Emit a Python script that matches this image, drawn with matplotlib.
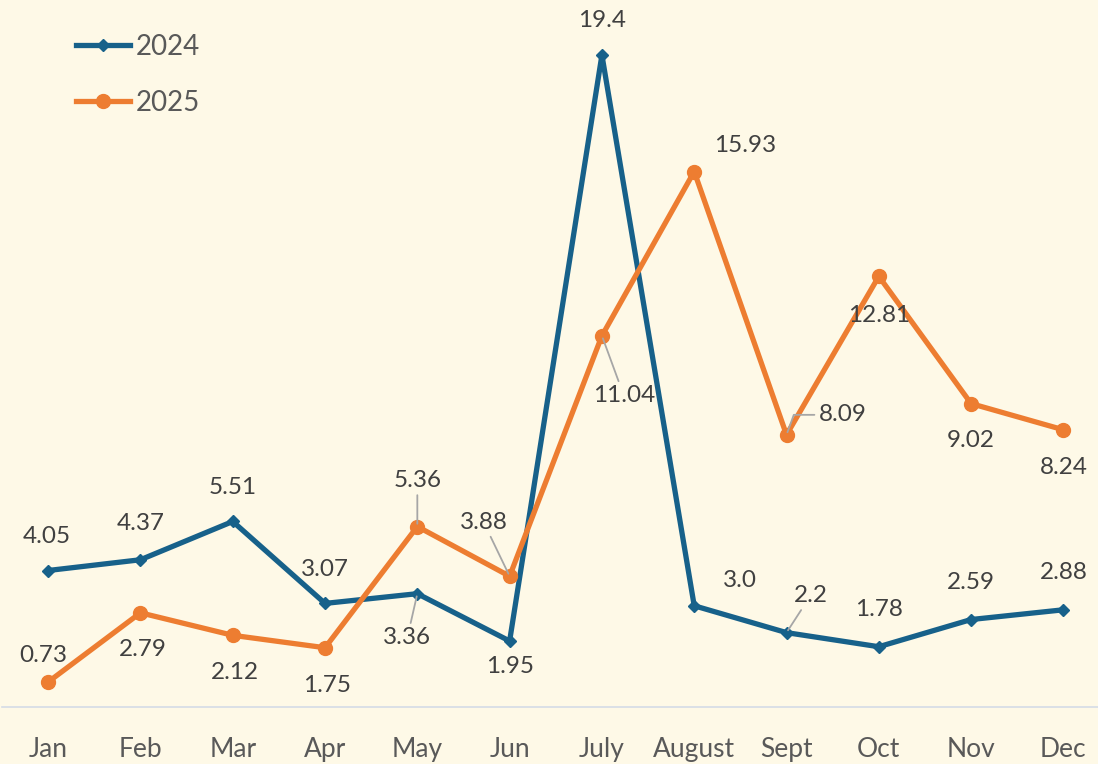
import matplotlib
matplotlib.use("Agg")
import matplotlib.pyplot as plt

months = ["Jan", "Feb", "Mar", "Apr", "May", "Jun", "July", "August",
          "Sept", "Oct", "Nov", "Dec"]
vals_2024 = [4.05, 4.37, 5.51, 3.07, 3.36, 1.95, 19.4, 3.0, 2.2, 1.78, 2.59, 2.88]
vals_2025 = [0.73, 2.79, 2.12, 1.75, 5.36, 3.88, 11.04, 15.93, 8.09, 12.81, 9.02, 8.24]
labels_2024 = ["4.05", "4.37", "5.51", "3.07", "3.36", "1.95", "19.4", "3.0",
               "2.2", "1.78", "2.59", "2.88"]
labels_2025 = ["0.73", "2.79", "2.12", "1.75", "5.36", "3.88", "11.04", "15.93",
               "8.09", "12.81", "9.02", "8.24"]

# label offsets in pixels (dx right, dy down) and whether a leader line is drawn
off_2024 = [(-1, -34), (0, -36), (0, -34), (0, -34), (-10, 44), (0, 25),
            (0, -35), (46, -25), (24, -37), (0, -37), (0, -37), (0, -37)]
lead_2024 = [False, False, False, False, True, False, False, False, True,
             False, False, False]
off_2025 = [(-5, -26), (2, 37), (2, 37), (2, 38), (0, -46), (-26, -54),
            (22, 60), (51, -26), (56, -20), (0, 39), (0, 37), (0, 38)]
lead_2025 = [False, False, False, False, True, True, True, False, True,
             False, False, False]

BLUE = "#17618A"
ORANGE = "#ED7D31"
BG = "#FEF9E7"
FONT = "Lato"

W, H = 1098, 764
fig = plt.figure(figsize=(W / 100, H / 100), dpi=100, facecolor=BG)
ax = fig.add_axes([2 / W, (H - 706.5) / H, 1 - 2 / W, 706.5 / H])
ax.set_facecolor(BG)
x = list(range(len(months)))

ax.plot(x, vals_2024, color=BLUE, lw=3.8, marker="D", ms=6, label="2024",
        solid_joinstyle="miter", zorder=3)
ax.plot(x, vals_2025, color=ORANGE, lw=3.8, marker="o", ms=10, label="2025",
        zorder=4)

ax.set_xlim(-0.5, 11.375)
ax.set_ylim(0, 706.5 / 33.58)

for vals, labs, offs, leads in ((vals_2024, labels_2024, off_2024, lead_2024),
                                (vals_2025, labels_2025, off_2025, lead_2025)):
    for i, (v, t, (dx, dy), ld) in enumerate(zip(vals, labs, offs, leads)):
        kw = {}
        if ld:
            cs = "arc3"
            if t == "8.09":
                cs = "angle,angleA=180,angleB=70,rad=0"
            kw["arrowprops"] = dict(arrowstyle="-", color="#A6A6A6", lw=1.3,
                                    shrinkA=1, shrinkB=2, connectionstyle=cs)
        ax.annotate(t, (i, v), xytext=(dx, -dy), textcoords="offset pixels",
                    ha="center", va="center", fontsize=17.5, color="#404040",
                    family=FONT, zorder=5, **kw)

for s in ("left", "right", "top"):
    ax.spines[s].set_visible(False)
ax.spines["bottom"].set_color("#D5DCE6")
ax.spines["bottom"].set_linewidth(1.2)
ax.set_yticks([])
ax.set_xticks(x)
ax.set_xticklabels(months, fontsize=19, color="#595959", family=FONT)
ax.tick_params(axis="x", length=0, pad=22)

leg = ax.legend(loc="upper left", bbox_to_anchor=(76 / W, 1 - 34 / H),
                bbox_transform=fig.transFigure, frameon=False, fontsize=20,
                handlelength=1.95, handletextpad=0.2, labelspacing=1.08,
                borderpad=0, borderaxespad=0)
for txt in leg.get_texts():
    txt.set_color("#595959")
    txt.set_family(FONT)

fig.savefig("out.png", dpi=100, facecolor=BG)
